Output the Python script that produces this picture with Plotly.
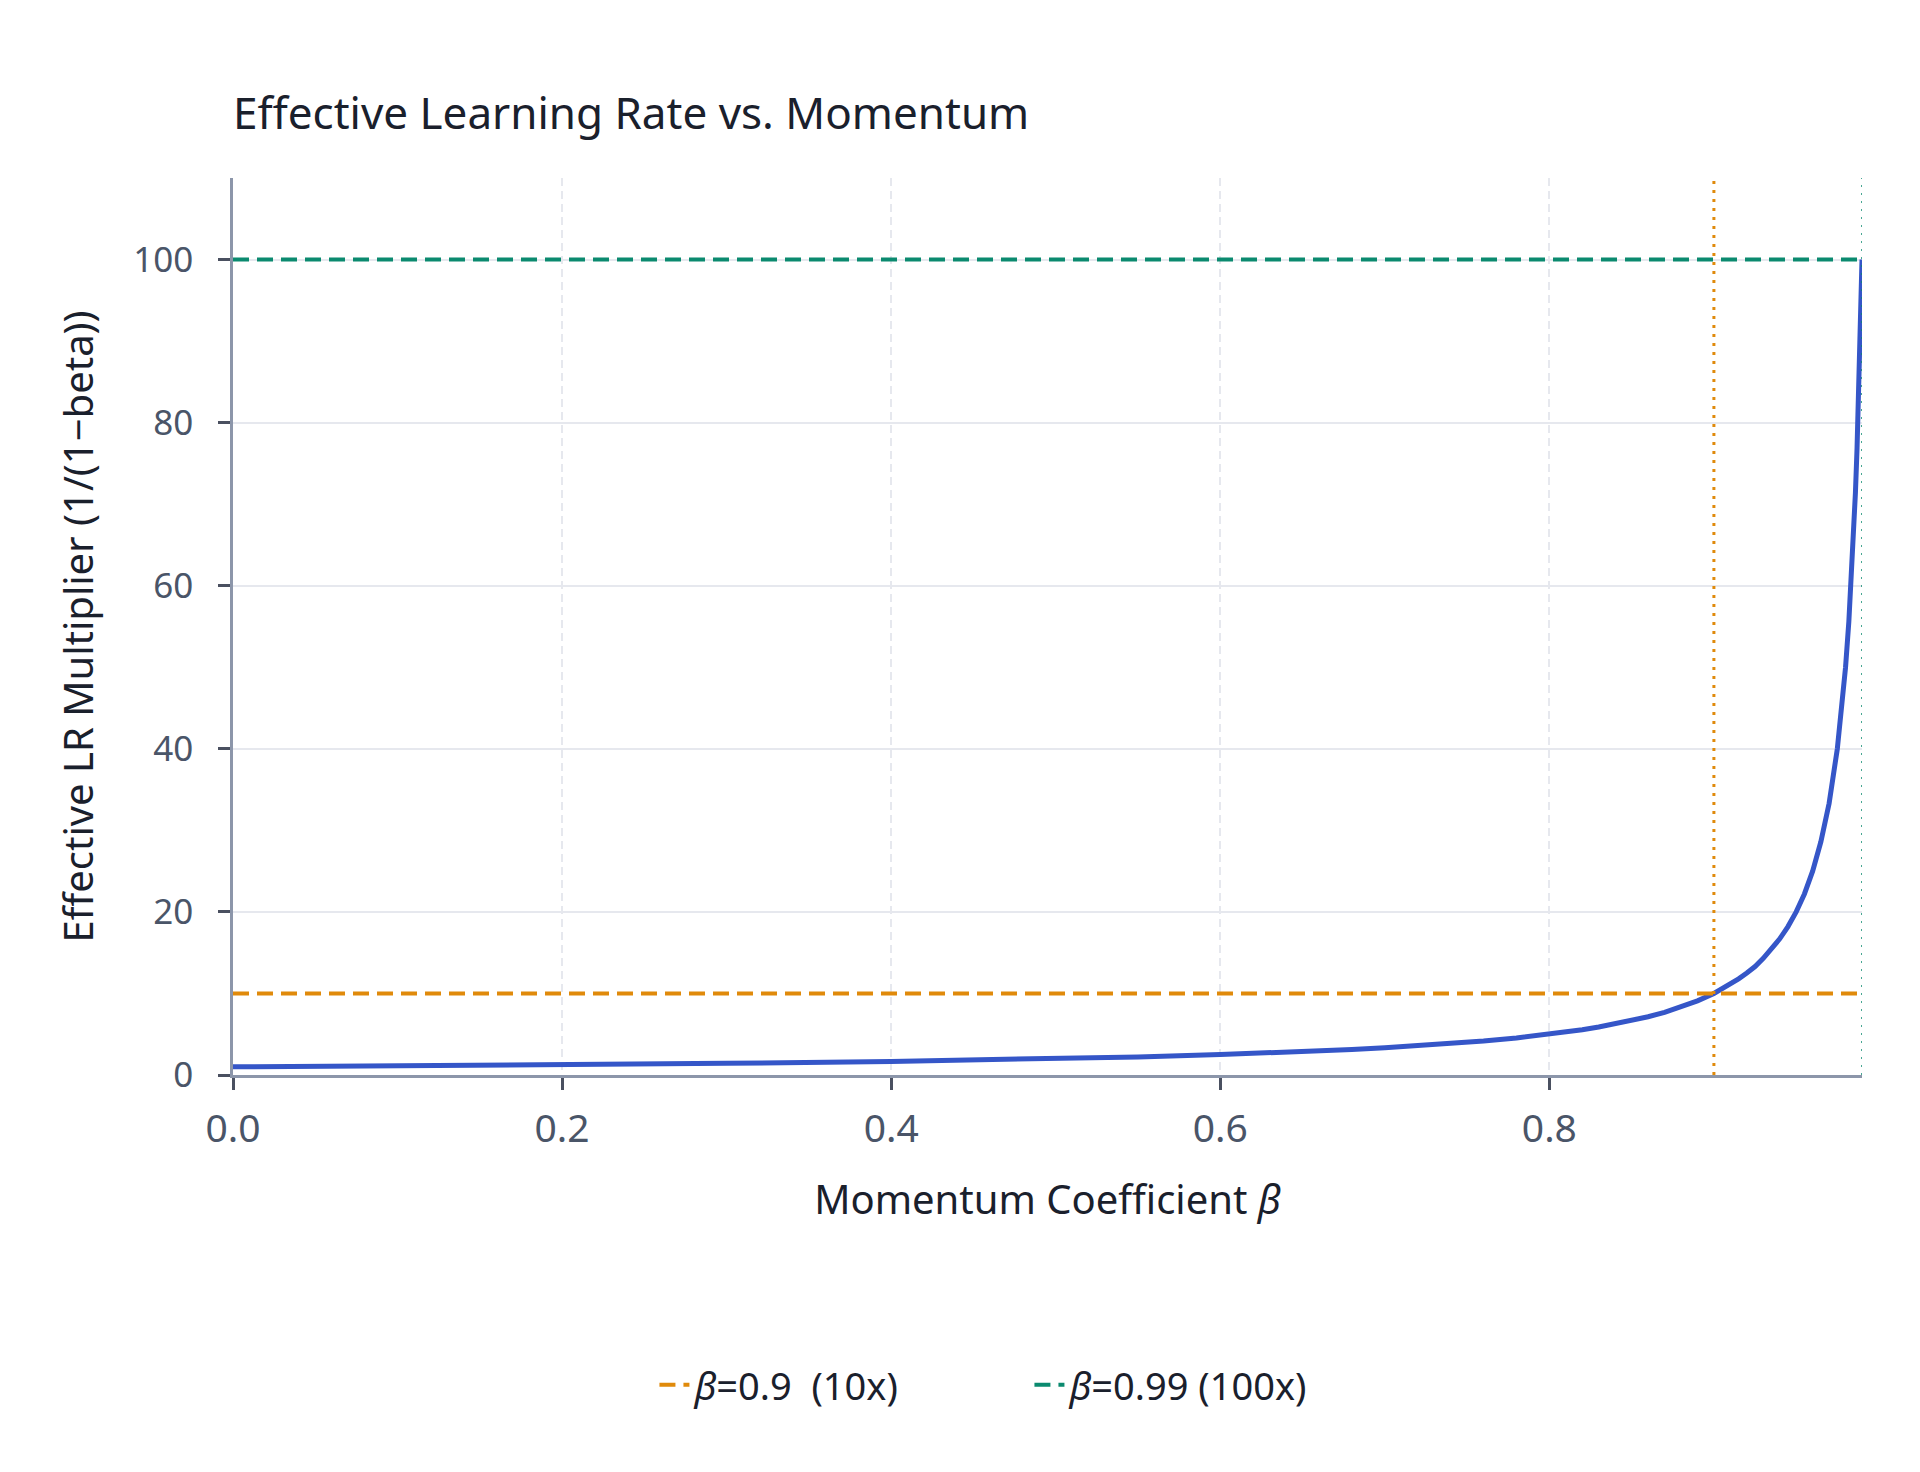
import plotly.graph_objects as go

# momentum coefficient and effective LR multiplier
beta = [0.0, 0.1, 0.2, 0.3, 0.4, 0.45, 0.5, 0.55, 0.6, 0.62, 0.65, 0.68, 0.7, 0.72, 0.74,
        0.75, 0.76, 0.78, 0.8, 0.82, 0.83, 0.84, 0.85, 0.86, 0.87, 0.88, 0.89, 0.9, 0.91,
        0.915, 0.92, 0.925, 0.93, 0.935, 0.94, 0.945, 0.95, 0.955, 0.96, 0.965, 0.97,
        0.975, 0.978, 0.98, 0.982, 0.984, 0.986, 0.987, 0.988, 0.989, 0.99]
multiplier = [1.0, 1.11, 1.25, 1.43, 1.67, 1.82, 2.0, 2.22, 2.5, 2.63, 2.86, 3.13, 3.33, 3.57, 3.85,
              4.0, 4.17, 4.55, 5.0, 5.56, 5.88, 6.25, 6.67, 7.14, 7.69, 8.33, 9.09, 10.0, 11.1,
              11.8, 12.5, 13.3, 14.3, 15.4, 16.7, 18.2, 20.0, 22.2, 25.0, 28.6, 33.3,
              40.0, 45.5, 50.0, 55.6, 62.5, 71.4, 76.9, 83.3, 90.9, 100.0]

ref_beta = [0.9, 0.99]
ref_mult = [10, 100]
ref_names = ["<i>β</i>=0.9&nbsp; (10x)", "<i>β</i>=0.99 (100x)"]
ref_colors = ["#E08A0B", "#0B8A6F"]

x_ticks = [0.0, 0.2, 0.4, 0.6, 0.8]
y_ticks = [0, 20, 40, 60, 80, 100]

font = "Noto Sans"

fig = go.Figure()
fig.add_trace(go.Scatter(x=beta, y=multiplier, mode="lines", showlegend=False,
                         line=dict(color="#3556C8", width=5)))

for b, m, name, col in zip(ref_beta, ref_mult, ref_names, ref_colors):
    fig.add_trace(go.Scatter(x=[beta[0], beta[-1]], y=[m, m], mode="lines", name=name,
                             line=dict(color=col, width=4, dash="16px,8px")))

# vertical markers at the two reference betas
fig.add_vline(x=ref_beta[0], line=dict(color=ref_colors[0], width=3, dash="3px,6px"))
fig.add_vline(x=ref_beta[1], line=dict(color=ref_colors[1], width=1.5, dash="2px,6px"))

fig.update_layout(
    width=1920, height=1472,
    paper_bgcolor="white", plot_bgcolor="white",
    margin=dict(l=225, r=66, t=170, b=405),
    font=dict(family=font, color="#4A5568"),
    title=dict(text="Effective Learning Rate vs. Momentum", x=0, xref="paper", xanchor="left",
               y=1 - 106 / 1472, yanchor="middle", font=dict(size=44, color="#1A202C")),
    legend=dict(orientation="h", xref="container", x=0.532, xanchor="center",
                yref="container", y=1 - 1377 / 1472, yanchor="middle",
                entrywidth=330, font=dict(size=38, color="#1A202C")),
)

fig.update_xaxes(
    range=[0, 0.99], tickvals=x_ticks, ticktext=[f"{v:.1f}" for v in x_ticks],
    title=dict(text="Momentum Coefficient <i>β</i>", font=dict(size=40, color="#1A202C"), standoff=35),
    tickfont=dict(size=39), ticks="outside", ticklen=12, tickwidth=2.5, tickcolor="#4A5060",
    ticklabelstandoff=5,
    showline=True, linecolor="#8C96AA", linewidth=2.5,
    showgrid=True, gridcolor="#E6E8EE", gridwidth=2, griddash="8px,5px", zeroline=False,
)
fig.update_yaxes(
    range=[0, 110], tickvals=y_ticks,
    title=dict(text="Effective LR Multiplier (1/(1−beta))", font=dict(size=40, color="#1A202C"), standoff=28),
    tickfont=dict(size=35), ticks="outside", ticklen=12, tickwidth=2.5, tickcolor="#4A5060",
    ticklabelstandoff=18,
    showline=True, linecolor="#8C96AA", linewidth=2.5,
    showgrid=True, gridcolor="#E6E8EE", gridwidth=2, zeroline=False,
)

fig.write_html("out.html")
